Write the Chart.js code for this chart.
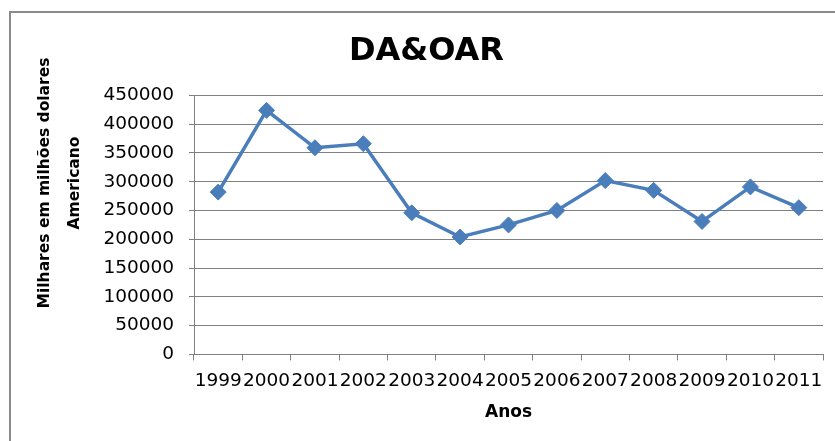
<!DOCTYPE html>
<html>
<head>
<meta charset="utf-8">
<script src="https://cdn.jsdelivr.net/npm/chart.js@4/dist/chart.umd.min.js"></script>
<style>
  html, body { margin: 0; padding: 0; background: #fff; }
  #wrap { width: 835px; height: 441px; position: relative; }
</style>
</head>
<body>
<div id="wrap"><canvas id="chart"></canvas></div>
<script>
// DA&OAR series, 1999-2011
const years = ['1999', '2000', '2001', '2002', '2003', '2004', '2005',
               '2006', '2007', '2008', '2009', '2010', '2011'];
const daoar = [282000, 424000, 359000, 366000, 246000, 204000, 225000,
               250000, 302000, 285000, 231000, 291000, 255000];
const yTicks = [0, 50000, 100000, 150000, 200000, 250000, 300000, 350000, 400000, 450000];
const yTitle = ['Milhares em milhões dolares', 'Americano'];

const FONT = '"DejaVu Sans", sans-serif';
const GRID = '#808080';
const BLUE = '#4a7ebb';

// grey frame like the Excel chart area + rotated two-line axis title
const framePlugin = {
    id: 'frame',
    beforeDraw(chart) {
        const ctx = chart.ctx;
        ctx.save();
        ctx.fillStyle = '#fff';
        ctx.fillRect(0, 0, chart.width, chart.height);
        ctx.strokeStyle = '#8a8a8a';
        ctx.lineWidth = 2;
        ctx.strokeRect(10, 12, chart.width + 20, chart.height + 20);
        ctx.restore();
    },
    afterDraw(chart) {
        const ctx = chart.ctx;
        ctx.save();
        ctx.translate(60, 183);
        ctx.rotate(-Math.PI / 2);
        ctx.fillStyle = '#000';
        ctx.font = 'bold 15.5px ' + FONT;
        ctx.textAlign = 'center';
        ctx.textBaseline = 'middle';
        ctx.fillText(yTitle[0], 0, -15);
        ctx.fillText(yTitle[1], 0, 15);
        ctx.restore();
    }
};

new Chart(document.getElementById('chart'), {
    type: 'line',
    data: {
        labels: years,
        datasets: [{
            label: 'DA&OAR',
            data: daoar,
            borderColor: BLUE,
            backgroundColor: BLUE,
            borderWidth: 3.5,
            pointStyle: 'rectRot',
            pointRadius: 8,
            pointBorderWidth: 1,
            pointBackgroundColor: BLUE,
            pointBorderColor: BLUE,
            tension: 0,
        }]
    },
    options: {
        responsive: true,
        maintainAspectRatio: false,
        animation: false,
        layout: { padding: { left: 30, right: 12, top: 0, bottom: 18 } },
        plugins: {
            legend: { display: false },
            tooltip: { enabled: false },
            title: {
                display: true,
                text: 'DA&OAR',
                color: '#000',
                font: { family: FONT, size: 32, weight: 'bold' },
                padding: { top: 32, bottom: 25 }
            }
        },
        scales: {
            x: {
                offset: true,
                grid: {
                    offset: true,
                    drawOnChartArea: false,
                    drawTicks: true,
                    tickLength: 6,
                    color: GRID,
                    lineWidth: 1
                },
                border: { color: GRID, width: 1 },
                ticks: {
                    autoSkip: false,
                    maxRotation: 0,
                    padding: 10,
                    color: '#000',
                    font: { family: FONT, size: 18.5 }
                },
                title: {
                    display: true,
                    text: 'Anos',
                    color: '#000',
                    font: { family: FONT, size: 17, weight: 'bold' },
                    padding: { top: 0, bottom: 0 }
                }
            },
            y: {
                min: 0,
                max: 450000,
                afterFit(scale) { scale.width = 164; },
                afterBuildTicks(scale) { scale.ticks = yTicks.map(v => ({ value: v })); },
                grid: {
                    color: GRID,
                    lineWidth: 1,
                    tickLength: 5
                },
                border: { color: GRID, width: 1 },
                ticks: {
                    padding: 15,
                    color: '#000',
                    font: { family: FONT, size: 18.5 },
                    callback: v => String(v)
                }
            }
        }
    },
    plugins: [framePlugin]
});
</script>
</body>
</html>
